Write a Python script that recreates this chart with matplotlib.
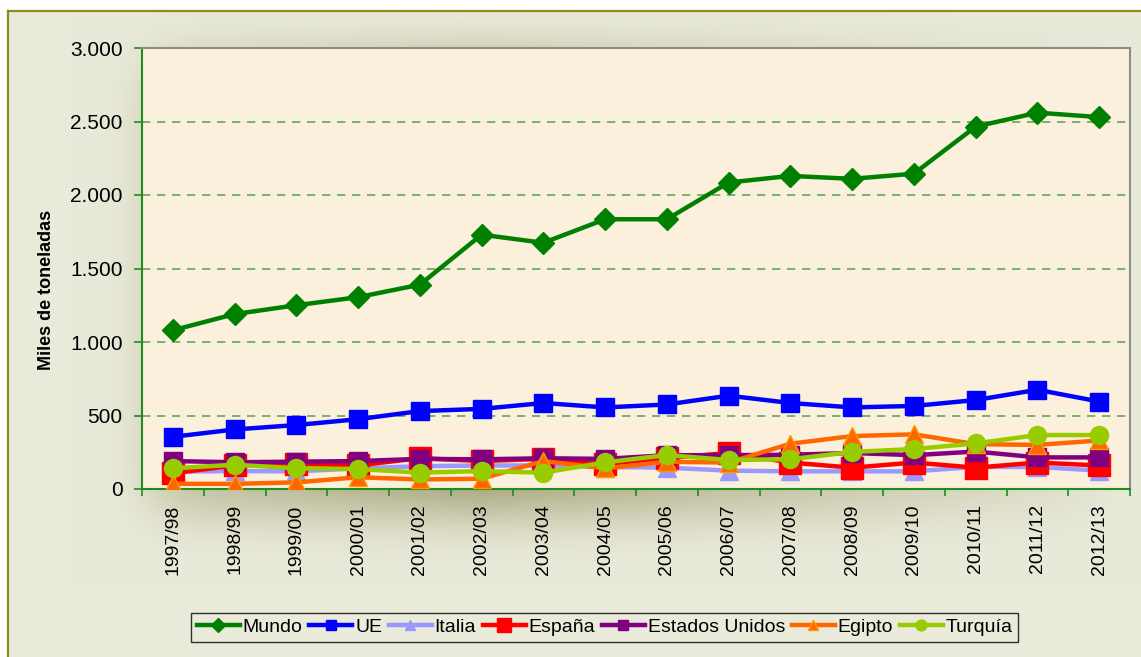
import matplotlib.pyplot as plt
import numpy as np
from matplotlib.lines import Line2D
from matplotlib.ticker import FuncFormatter, MultipleLocator

plt.rcParams['font.family'] = ['Liberation Sans', 'DejaVu Sans']

# Campañas y miles de toneladas por país
campanas = ['1997/98', '1998/99', '1999/00', '2000/01', '2001/02', '2002/03',
            '2003/04', '2004/05', '2005/06', '2006/07', '2007/08', '2008/09',
            '2009/10', '2010/11', '2011/12', '2012/13']
mundo = [1080, 1190, 1250, 1305, 1390, 1730, 1675, 1835, 1835, 2085, 2130, 2110, 2145, 2465, 2560, 2530]
ue = [355, 405, 435, 475, 530, 545, 585, 555, 575, 635, 585, 555, 565, 605, 675, 595]
italia = [118, 122, 120, 140, 155, 160, 160, 150, 145, 125, 120, 120, 120, 150, 150, 125]
espana = [107, 160, 170, 160, 210, 190, 205, 170, 210, 245, 180, 145, 180, 145, 180, 160]
eeuu = [190, 182, 186, 190, 205, 202, 209, 205, 230, 230, 233, 245, 230, 255, 215, 215]
egipto = [35, 35, 45, 80, 65, 70, 190, 140, 185, 180, 308, 360, 372, 305, 300, 330]
turquia = [141, 165, 141, 136, 111, 122, 111, 181, 231, 197, 202, 252, 272, 310, 367, 367]

series = [
    ('Mundo', mundo, '#008000', 'D', 11.5, '#008000'),
    ('UE', ue, '#0000FF', 's', 12.5, '#0000FF'),
    ('Italia', italia, '#9999FF', '^', 12.5, '#9999FF'),
    ('España', espana, '#FF0000', 's', 16.5, '#FF0000'),
    ('Estados Unidos', eeuu, '#800080', 's', 12.5, '#800080'),
    ('Egipto', egipto, '#FF6600', '^', 13, '#FF9900'),
    ('Turquía', turquia, '#99CC00', 'o', 13, '#99CC00'),
]

W, H = 1141, 657
fig = plt.figure(figsize=(W / 100, H / 100), dpi=100)

# fondo del gráfico con sombra difusa bajo el área de trazado
base = np.array([234, 234, 219]) / 255.0
dark = np.array([160, 158, 112]) / 255.0
yy, xx = np.mgrid[0:H, 0:W]
rect = ((xx >= 150) & (xx <= 1110) & (yy >= 60) & (yy <= 510)).astype(float)
sigma = 26
k = np.arange(-3 * sigma, 3 * sigma + 1)
kern = np.exp(-k ** 2 / (2.0 * sigma ** 2))
kern /= kern.sum()
blur = np.apply_along_axis(lambda r: np.convolve(r, kern, mode='same'), 1, rect)
blur = np.apply_along_axis(lambda c: np.convolve(c, kern, mode='same'), 0, blur)
wx = np.clip(1 - np.abs(xx - 480) / 700.0, 0, 1)
s = np.clip(blur * wx * 1.0, 0, 1)[..., None]
img = base * (1 - s) + dark * s
img[(xx < 8) | (yy < 11)] = 1.0

bg = fig.add_axes([0, 0, 1, 1])
bg.imshow(img, extent=(0, W, H, 0), aspect='auto', interpolation='bilinear')
bg.axis('off')
fig.add_artist(Line2D([8 / W, 8 / W], [0, 1 - 11 / H], color='#8C8C1E', lw=1.6))
fig.add_artist(Line2D([8 / W, 1], [1 - 11 / H, 1 - 11 / H], color='#8C8C1E', lw=1.6))

ax = fig.add_axes([142 / W, 1 - 489 / H, (1130 - 142) / W, (489 - 48) / H])
ax.set_facecolor('#FBF0DB')

x = np.arange(len(campanas))
handles = []
for i, (nombre, vals, color, mk, ms, edge) in enumerate(series):
    ln, = ax.plot(x, vals, color=color, lw=3.2, marker=mk, markersize=ms,
                  markerfacecolor=color, markeredgecolor=edge, markeredgewidth=1,
                  label=nombre, zorder=3 + i, solid_joinstyle='round')
    handles.append(ln)

ax.set_xlim(-0.5, len(campanas) - 0.5)
ax.set_ylim(0, 3000)
ax.yaxis.set_major_locator(MultipleLocator(500))
ax.yaxis.set_major_formatter(FuncFormatter(lambda v, p: '{:,.0f}'.format(v).replace(',', '.')))
ax.grid(axis='y', color='#3C963C', ls=(0, (5, 4)), lw=1.2, alpha=0.8, zorder=1)

ax.set_xticks(x)
ax.set_xticklabels(campanas, rotation=90, fontsize=14)
ax.set_xticks(np.arange(-0.5, len(campanas)), minor=True)
ax.tick_params(axis='x', which='major', length=0, pad=11)
ax.tick_params(axis='x', which='minor', length=5, color='#1E8C1E', width=1.2)
ax.tick_params(axis='y', length=6, color='#1E8C1E', width=1.2, labelsize=15, pad=8)

for lado in ['left', 'bottom']:
    ax.spines[lado].set_color('#1E8C1E')
    ax.spines[lado].set_linewidth(1.5)
for lado in ['top', 'right']:
    ax.spines[lado].set_color('#8C8C8C')
    ax.spines[lado].set_linewidth(1.5)

fig.text(47 / W, 1 - 290 / H, 'Miles de toneladas', rotation=90, fontsize=13,
         fontweight='bold', ha='center', va='center')

leg = fig.legend(handles=handles, loc='center', bbox_to_anchor=(0.530, 0.045),
                 ncol=7, fontsize=14, frameon=True, fancybox=False,
                 handlelength=2.2, handletextpad=0.15, columnspacing=0.35,
                 borderpad=0.3, markerscale=0.6, borderaxespad=0)
leg.get_frame().set_edgecolor('#000000')
leg.get_frame().set_facecolor('#ECECDD')
leg.get_frame().set_linewidth(1.0)

fig.savefig('out.png', dpi=100)
